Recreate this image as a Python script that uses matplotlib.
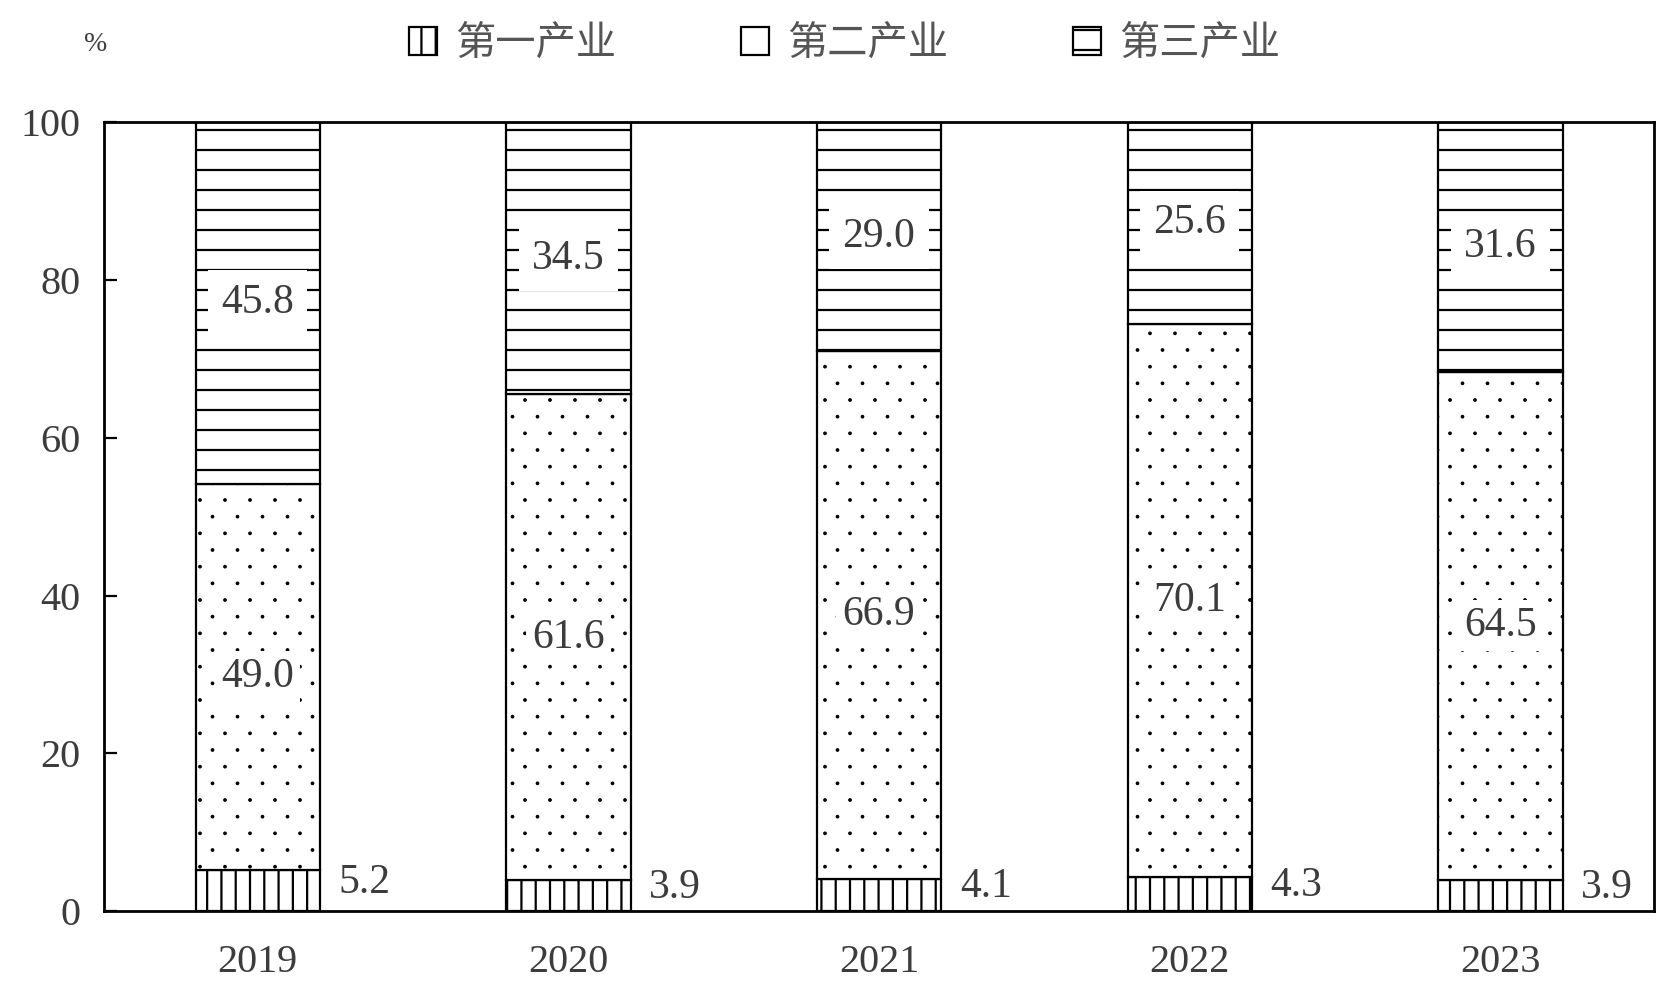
import matplotlib
matplotlib.use('Agg')
import numpy as np
from matplotlib import pyplot as plt
from matplotlib.patches import Patch
from matplotlib.path import Path
import matplotlib.hatch as mhatch

# 三次产业占比（%）
years = ['2019', '2020', '2021', '2022', '2023']
primary = [5.2, 3.9, 4.1, 4.3, 3.9]
secondary = [49.0, 61.6, 66.9, 70.1, 64.5]
tertiary = [45.8, 34.5, 29.0, 25.6, 31.6]
names = ['第一产业', '第二产业', '第三产业']


# 填充纹理间距调整：点稀一些，横线宽一些，竖线密一些
class SparseDots(mhatch.HatchPatternBase):
    r = 0.013

    def __init__(self, hatch, density):
        n = hatch.count('.')
        circ = Path.unit_circle()
        self.sv = circ.vertices
        self.sc = circ.codes
        self.centers = []
        if n:
            nrow, ncol = 6 * n, 4 * n
            for k in range(nrow + 1):
                if k % 2 == 0:
                    xs = np.linspace(0, 1, ncol + 1)
                else:
                    xs = np.linspace(0.5 / ncol, 1 - 0.5 / ncol, ncol)
                for xx in xs:
                    self.centers.append((xx, k / nrow))
        self.num_vertices = len(self.centers) * len(self.sv)

    def set_vertices_and_codes(self, vertices, codes):
        m = len(self.sv)
        for i, (cx, cy) in enumerate(self.centers):
            vertices[i * m:(i + 1) * m] = self.sv * self.r + [cx, cy]
            codes[i * m:(i + 1) * m] = self.sc


class WideHorizontal(mhatch.HorizontalHatch):
    def __init__(self, hatch, density):
        super().__init__(hatch, 5)


class DenseVertical(mhatch.VerticalHatch):
    def __init__(self, hatch, density):
        super().__init__(hatch, 7)


ht = mhatch._hatch_types
ht[ht.index(mhatch.SmallFilledCircles)] = SparseDots
ht[ht.index(mhatch.HorizontalHatch)] = WideHorizontal
ht[ht.index(mhatch.VerticalHatch)] = DenseVertical

plt.rcParams['hatch.linewidth'] = 1.6
plt.rcParams['hatch.color'] = 'black'

numfont = 'Liberation Serif'
txtcol = '#3c3c3c'

fig = plt.figure(figsize=(16.76, 9.94), dpi=100)
ax = fig.add_axes([0.062, 0.0835, 0.925, 0.7935])

x = np.arange(len(years))
w = 0.4
p = np.array(primary)
s = np.array(secondary)
t = np.array(tertiary)

ax.bar(x, p, w, color='white', edgecolor='black', lw=1.6, hatch='|')
b2 = ax.bar(x, s, w, bottom=p, color='white', edgecolor='black', lw=1.6, hatch='.')
ax.bar(x, t, w, bottom=p + s, color='white', edgecolor='black', lw=1.6, hatch='-')
for r in b2:
    try:
        r.set_hatch_linewidth(0.8)
    except AttributeError:
        pass

for i in range(len(years)):
    # 第三产业标签
    ax.text(x[i], p[i] + s[i] + t[i] / 2, '%.1f' % t[i], ha='center', va='center',
            fontsize=30, family=numfont, color=txtcol, zorder=5,
            bbox=dict(boxstyle='square,pad=0.32', fc='white', ec='none'))
    # 第二产业标签
    ax.text(x[i], p[i] + s[i] / 2, '%.1f' % s[i], ha='center', va='center',
            fontsize=30, family=numfont, color=txtcol, zorder=5,
            bbox=dict(boxstyle='square,pad=0.15', fc='white', ec='none'))
    # 第一产业标签
    ax.text(x[i] + w / 2 + 0.06, p[i] * 0.5 + 1, '%.1f' % p[i], ha='left', va='center',
            fontsize=30, family=numfont, color=txtcol, zorder=5)

ax.set_xlim(-0.495, len(years) - 0.505)
ax.set_ylim(0, 100)
ax.set_yticks(range(0, 101, 20))
ax.set_xticks(x)
ax.set_xticklabels(years)
ax.tick_params(axis='y', direction='in', length=9, width=1.6, pad=17,
               labelsize=29, labelcolor=txtcol)
ax.tick_params(axis='x', length=0, pad=24, labelsize=29, labelcolor=txtcol)
for lab in ax.get_xticklabels() + ax.get_yticklabels():
    lab.set_family(numfont)
for sp in ax.spines.values():
    sp.set_linewidth(2)

fig.text(0.057, 0.955, '%', fontsize=20, family=numfont, color=txtcol,
         ha='center', va='center')

hatches = ['|', '', '-']
handles = [Patch(facecolor='white', edgecolor='black', lw=1.6, hatch=h) for h in hatches]
fig.legend(handles, names, loc='center', bbox_to_anchor=(0.504, 0.956), ncol=3,
           frameon=False, prop={'family': ['Noto Sans CJK SC', 'DejaVu Sans'], 'size': 29},
           labelcolor='#555555', handlelength=0.7, handleheight=0.7,
           handletextpad=0.45, columnspacing=3.1)

fig.savefig('out.png', dpi=100)
